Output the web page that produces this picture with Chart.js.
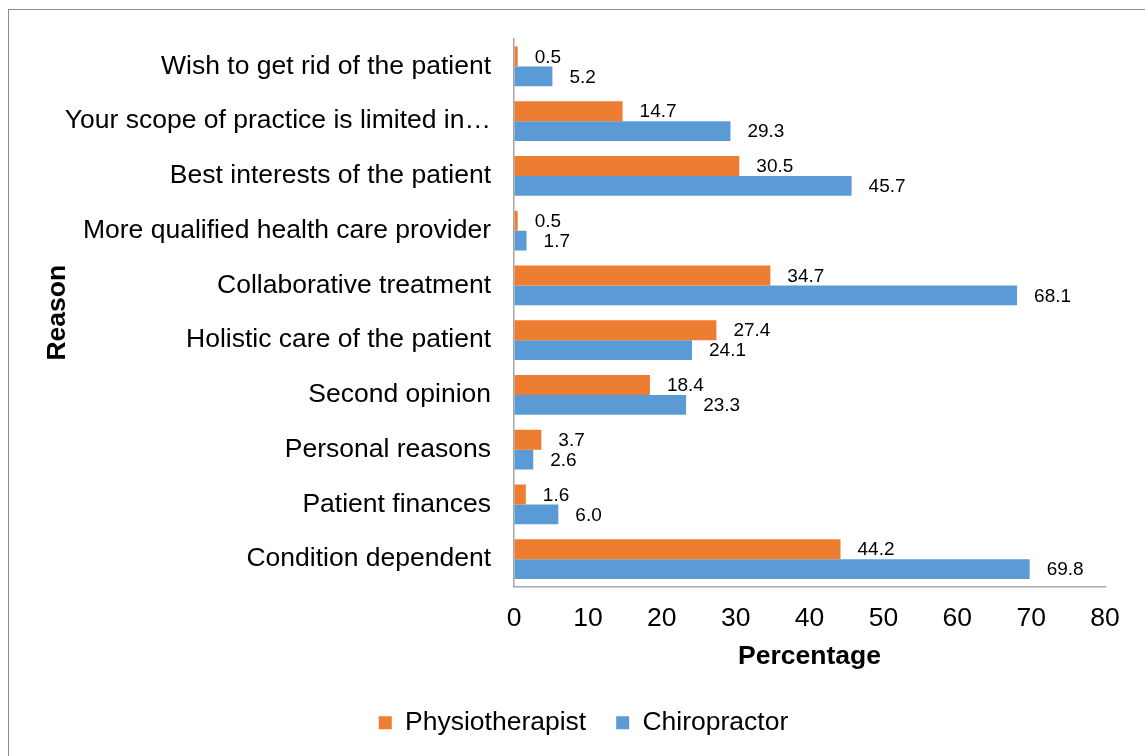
<!DOCTYPE html>
<html>
<head>
<meta charset="utf-8">
<script src="https://cdn.jsdelivr.net/npm/chart.js@4"></script>
<style>
    body { margin: 0; background: #fff; overflow: hidden; }
    #wrap { position: relative; width: 1145px; height: 756px; }
    #frame { position: absolute; left: 8px; top: 9px; width: 1200px; height: 800px; border: 1.5px solid #8c8c8c; box-sizing: border-box; }
    canvas { position: absolute; left: 0; top: 0; }
</style>
</head>
<body>
<div id="wrap">
    <div id="frame"></div>
    <canvas id="reasonChart" width="1145" height="756"></canvas>
</div>
<script>
const reasons = [
    'Wish to get rid of the patient',
    'Your scope of practice is limited in\u2026',
    'Best interests of the patient',
    'More qualified health care provider',
    'Collaborative treatment',
    'Holistic care of the patient',
    'Second opinion',
    'Personal reasons',
    'Patient finances',
    'Condition dependent'
];
const physioData = [0.5, 14.7, 30.5, 0.5, 34.7, 27.4, 18.4, 3.7, 1.6, 44.2];
const chiroData = [5.2, 29.3, 45.7, 1.7, 68.1, 24.1, 23.3, 2.6, 6.0, 69.8];
const xTicks = [0, 10, 20, 30, 40, 50, 60, 70, 80];

const FONT = '"Liberation Sans", Arial, sans-serif';
const SIZE = 26.5;

// 막대 끝에 값 표시
const valueLabels = {
    id: 'valueLabels',
    afterDatasetsDraw(chart) {
        const ctx = chart.ctx;
        ctx.save();
        ctx.font = '19px ' + FONT;
        ctx.fillStyle = '#000';
        ctx.textAlign = 'left';
        ctx.textBaseline = 'middle';
        chart.data.datasets.forEach((ds, i) => {
            chart.getDatasetMeta(i).data.forEach((bar, j) => {
                ctx.fillText(ds.data[j].toFixed(1), bar.x + 17, bar.y + 1);
            });
        });
        ctx.restore();
    }
};

// 범례를 조금 오른쪽으로
const legendShift = {
    id: 'legendShift',
    afterLayout(chart) {
        chart.legend.left += 10;
        chart.legend.right += 10;
    }
};

new Chart(document.getElementById('reasonChart'), {
    type: 'bar',
    data: {
        labels: reasons,
        datasets: [{
            label: 'Physiotherapist',
            data: physioData,
            backgroundColor: '#ED7D31',
            borderWidth: 0,
            barPercentage: 1,
            categoryPercentage: 0.73,
        }, {
            label: 'Chiropractor',
            data: chiroData,
            backgroundColor: '#5B9BD5',
            borderWidth: 0,
            barPercentage: 1,
            categoryPercentage: 0.73,
        }]
    },
    options: {
        indexAxis: 'y',
        responsive: false,
        animation: false,
        layout: { padding: { left: 42, right: 40, top: 39, bottom: 10 } },
        plugins: {
            legend: {
                position: 'bottom',
                labels: {
                    boxWidth: 13,
                    boxHeight: 13,
                    padding: 30,
                    color: '#000',
                    font: { family: FONT, size: SIZE }
                }
            },
            tooltip: { enabled: false }
        },
        scales: {
            x: {
                min: 0,
                max: 80,
                afterBuildTicks: scale => { scale.ticks = xTicks.map(v => ({ value: v })); },
                afterFit: scale => { scale.height = 93; },
                grid: { drawOnChartArea: false, drawTicks: false },
                border: { display: true, color: '#a6a6a6', width: 1.5 },
                ticks: { padding: 16, color: '#000', font: { family: FONT, size: SIZE } },
                title: {
                    display: true,
                    text: 'Percentage',
                    color: '#000',
                    padding: { top: 0, bottom: 7 },
                    font: { family: FONT, size: SIZE, weight: 'bold' }
                }
            },
            y: {
                afterFit: scale => { scale.width = 472; },
                grid: { drawOnChartArea: false, drawTicks: false },
                border: { display: true, color: '#a6a6a6', width: 1.5 },
                ticks: { padding: 23, autoSkip: false, color: '#000', font: { family: FONT, size: SIZE } },
                title: {
                    display: true,
                    text: 'Reason',
                    color: '#000',
                    padding: 0,
                    font: { family: FONT, size: SIZE, weight: 'bold' }
                }
            }
        }
    },
    plugins: [valueLabels, legendShift]
});
</script>
</body>
</html>
